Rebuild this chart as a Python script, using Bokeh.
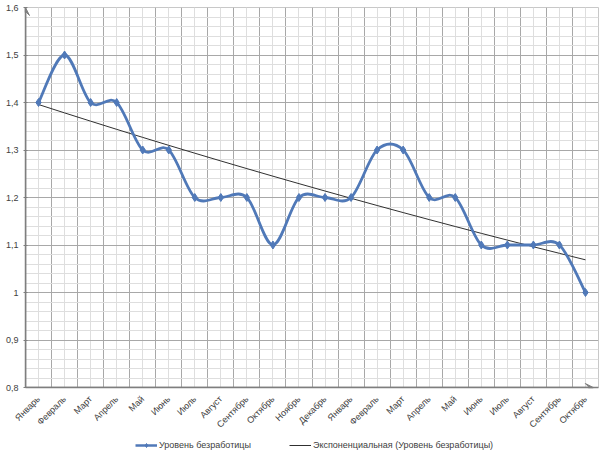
import numpy as np
from bokeh.plotting import figure
from bokeh.layouts import column
from bokeh.models import (ColumnDataSource, FixedTicker, Arrow, VeeHead, Legend, LegendItem, Range1d)
from bokeh.embed import file_html
from bokeh.resources import INLINE

months = ["Январь", "Февраль", "Март", "Апрель", "Май", "Июнь", "Июль", "Август",
          "Сентябрь", "Октябрь", "Ноябрь", "Декабрь", "Январь", "Февраль", "Март",
          "Апрель", "Май", "Июнь", "Июль", "Август", "Сентябрь", "Октябрь"]
rate = [1.4, 1.5, 1.4, 1.4, 1.3, 1.3, 1.2, 1.2, 1.2, 1.1, 1.2, 1.2,
        1.2, 1.3, 1.3, 1.2, 1.2, 1.1, 1.1, 1.1, 1.1, 1.0]
y_ticks = [0.8, 0.9, 1.0, 1.1, 1.2, 1.3, 1.4, 1.5, 1.6]
y_labels = ["0,8", "0,9", "1", "1,1", "1,2", "1,3", "1,4", "1,5", "1,6"]
series_name = "Уровень безработицы"
trend_name = "Экспоненциальная (Уровень безработицы)"

n = len(rate)
xs = np.arange(n, dtype=float)
ys = np.array(rate, dtype=float)

# Excel-style smoothed line (Catmull-Rom Bezier segments)
xp = np.concatenate([[xs[0]], xs, [xs[-1]]])
yp = np.concatenate([[ys[0]], ys, [ys[-1]]])
seg = dict(x0=[], y0=[], x1=[], y1=[], cx0=[], cy0=[], cx1=[], cy1=[])
for i in range(n - 1):
    p0x, p0y = xp[i], yp[i]
    p1x, p1y = xp[i + 1], yp[i + 1]
    p2x, p2y = xp[i + 2], yp[i + 2]
    p3x, p3y = xp[i + 3], yp[i + 3]
    seg["x0"].append(p1x); seg["y0"].append(p1y)
    seg["x1"].append(p2x); seg["y1"].append(p2y)
    seg["cx0"].append(p1x + (p2x - p0x) / 6); seg["cy0"].append(p1y + (p2y - p0y) / 6)
    seg["cx1"].append(p2x - (p3x - p1x) / 6); seg["cy1"].append(p2y - (p3y - p1y) / 6)

# Exponential trendline (least squares on log values, as Excel does)
b, ln_a = np.polyfit(xs, np.log(ys), 1)
trend = np.exp(ln_a) * np.exp(b * xs)

x_lo, x_hi = -0.5, n - 0.5
y_lo, y_hi = 0.8, 1.6

p = figure(width=600, height=436, output_backend="svg", toolbar_location=None,
           x_range=Range1d(x_lo, x_hi), y_range=Range1d(y_lo, y_hi),
           min_border_left=25, min_border_right=2, min_border_top=7, min_border_bottom=44)
p.background_fill_color = "white"
p.outline_line_color = "#c8c8c8"

blue = "#5079b8"
font = "Liberation Sans"
fs = "9px"

# grids
boundaries = list(np.arange(n + 1) - 0.5)
p.xgrid.ticker = FixedTicker(ticks=boundaries, minor_ticks=list(xs))
p.xgrid.grid_line_color = "#a8a8a8"
p.xgrid.minor_grid_line_color = "#dedede"
y_minor = [round(v, 2) for v in np.arange(0.8, 1.6001, 0.02)]
p.ygrid.ticker = FixedTicker(ticks=y_ticks, minor_ticks=y_minor)
p.ygrid.grid_line_color = "#a8a8a8"
p.ygrid.minor_grid_line_color = "#dedede"

# axes
p.xaxis.ticker = FixedTicker(ticks=list(xs))
p.xaxis.major_label_overrides = {float(i): m for i, m in enumerate(months)}
p.xaxis.major_label_orientation = np.pi / 4
p.xaxis.major_label_text_font = font
p.xaxis.major_label_text_font_size = fs
p.xaxis.major_label_text_color = "#404040"
p.xaxis.major_tick_line_color = None
p.xaxis.minor_tick_line_color = None
p.xaxis.axis_line_color = "#7f7f7f"
p.xaxis.axis_line_width = 1.5
p.xaxis.major_label_standoff = 4

p.yaxis.ticker = FixedTicker(ticks=y_ticks)
p.yaxis.major_label_overrides = {t: l for t, l in zip(y_ticks, y_labels)}
p.yaxis.major_label_text_font = font
p.yaxis.major_label_text_font_size = fs
p.yaxis.major_label_text_color = "#404040"
p.yaxis.major_tick_out = 2
p.yaxis.major_tick_in = 2
p.yaxis.major_tick_line_color = "#7f7f7f"
p.yaxis.minor_tick_line_color = None
p.yaxis.axis_line_color = "#7f7f7f"
p.yaxis.axis_line_width = 1.5
p.yaxis.major_label_standoff = 5

# axis arrows
p.add_layout(Arrow(x_start=x_lo, y_start=y_lo, x_end=x_lo, y_end=y_hi,
                   line_color="#7f7f7f", line_width=1.5,
                   end=VeeHead(size=8, line_color="#7f7f7f", fill_color="#7f7f7f")))
p.add_layout(Arrow(x_start=x_lo, y_start=y_lo, x_end=x_hi - 0.2, y_end=y_lo,
                   line_color="#7f7f7f", line_width=1.5,
                   end=VeeHead(size=8, line_color="#7f7f7f", fill_color="#7f7f7f")))

# series
src = ColumnDataSource(dict(x=list(xs), y=rate))
p.line(list(xs), list(trend), line_color="#303030", line_width=1)
p.bezier(source=ColumnDataSource(seg), x0="x0", y0="y0", x1="x1", y1="y1",
         cx0="cx0", cy0="cy0", cx1="cx1", cy1="cy1",
         line_color=blue, line_width=2.8)
p.scatter("x", "y", source=src, marker="diamond", size=8,
          fill_color=blue, line_color=blue)

# legend strip below the chart (its own renderers lie outside its visible range)
pl = figure(width=600, height=14, output_backend="svg", toolbar_location=None,
            x_range=Range1d(1000, 1001), y_range=Range1d(1000, 1001),
            min_border=0)
pl.axis.visible = False
pl.grid.visible = False
pl.outline_line_color = None
l_line = pl.line("x", "y", source=src, line_color=blue, line_width=2.5)
l_mark = pl.scatter("x", "y", source=src, marker="diamond", size=7,
                    fill_color=blue, line_color=blue)
l_trend = pl.line(list(xs), list(trend), line_color="#303030", line_width=1)

legend = Legend(items=[
    LegendItem(label=series_name, renderers=[l_line, l_mark]),
    LegendItem(label=trend_name, renderers=[l_trend]),
], orientation="horizontal", location=(110, 0))
legend.label_text_font = font
legend.label_text_font_size = fs
legend.label_text_color = "#404040"
legend.border_line_color = None
legend.background_fill_alpha = 0
legend.glyph_width = 22
legend.glyph_height = 10
legend.label_height = 10
legend.label_standoff = 2
legend.spacing = 38
legend.padding = 2
legend.margin = 0
pl.add_layout(legend)

open("out.html", "w").write(file_html(column(p, pl), INLINE))
